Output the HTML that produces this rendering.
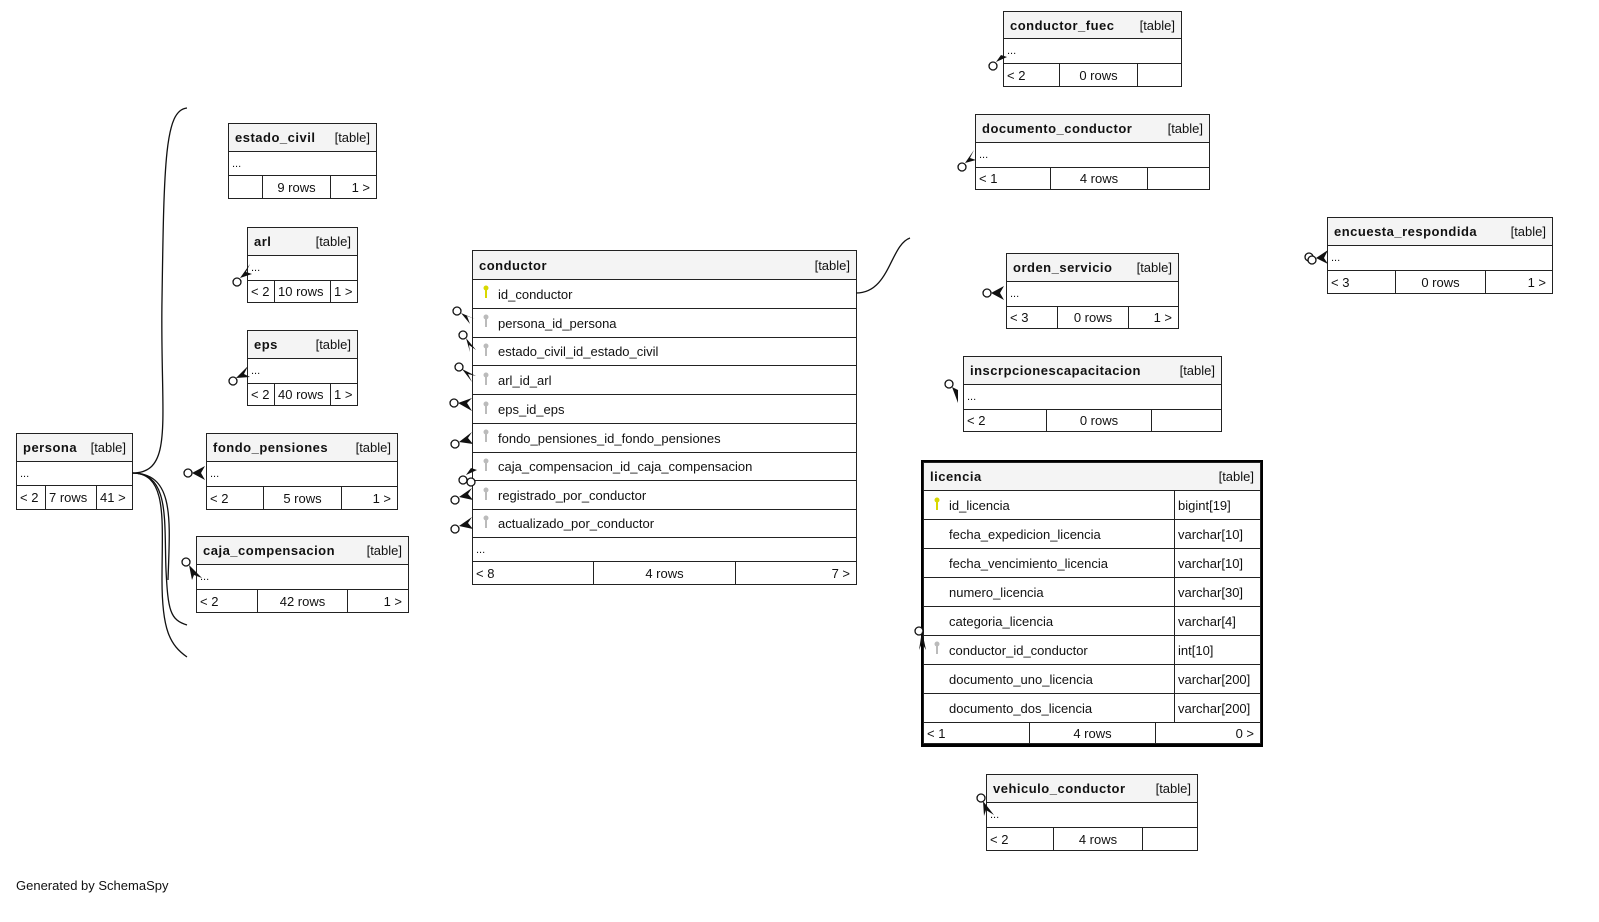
<!DOCTYPE html>
<html><head><meta charset="utf-8"><style>
body{margin:0;width:1599px;height:922px;background:#fff;position:relative;overflow:hidden;font-family:"Liberation Sans",sans-serif;font-size:13px;color:#111}
.c{position:absolute;border:1px solid #222;box-sizing:border-box;display:flex;align-items:center;padding:0 6px;background:#fff;white-space:nowrap;overflow:hidden}
.h{background:#f4f4f4;justify-content:space-between}
.h b{font-weight:bold;letter-spacing:0.5px}
.r{justify-content:flex-end}
.m{justify-content:center}
.p{padding-left:25px}
.d{font-size:11px;padding-left:3px}
.f{padding-left:3px}
svg{position:absolute;left:0;top:0}
</style></head><body>

<!-- conductor_fuec -->
<div class="c h" style="left:1003px;top:11px;width:179px;height:28px"><b>conductor_fuec</b><span>[table]</span></div>
<div class="c d" style="left:1003px;top:38px;width:179px;height:26px">...</div>
<div class="c f" style="left:1003px;top:63px;width:57px;height:24px">&lt; 2</div>
<div class="c m" style="left:1059px;top:63px;width:79px;height:24px">0 rows</div>
<div class="c" style="left:1137px;top:63px;width:45px;height:24px"></div>

<!-- documento_conductor -->
<div class="c h" style="left:975px;top:114px;width:235px;height:29px"><b>documento_conductor</b><span>[table]</span></div>
<div class="c d" style="left:975px;top:142px;width:235px;height:26px">...</div>
<div class="c f" style="left:975px;top:167px;width:76px;height:23px">&lt; 1</div>
<div class="c m" style="left:1050px;top:167px;width:98px;height:23px">4 rows</div>
<div class="c" style="left:1147px;top:167px;width:63px;height:23px"></div>

<!-- encuesta_respondida -->
<div class="c h" style="left:1327px;top:217px;width:226px;height:29px"><b>encuesta_respondida</b><span>[table]</span></div>
<div class="c d" style="left:1327px;top:245px;width:226px;height:26px">...</div>
<div class="c f" style="left:1327px;top:270px;width:69px;height:24px">&lt; 3</div>
<div class="c m" style="left:1395px;top:270px;width:91px;height:24px">0 rows</div>
<div class="c r" style="left:1485px;top:270px;width:68px;height:24px">1 &gt;</div>

<!-- orden_servicio -->
<div class="c h" style="left:1006px;top:253px;width:173px;height:29px"><b>orden_servicio</b><span>[table]</span></div>
<div class="c d" style="left:1006px;top:281px;width:173px;height:26px">...</div>
<div class="c f" style="left:1006px;top:306px;width:52px;height:23px">&lt; 3</div>
<div class="c m" style="left:1057px;top:306px;width:72px;height:23px">0 rows</div>
<div class="c r" style="left:1128px;top:306px;width:51px;height:23px">1 &gt;</div>

<!-- inscrpcionescapacitacion -->
<div class="c h" style="left:963px;top:356px;width:259px;height:29px"><b>inscrpcionescapacitacion</b><span>[table]</span></div>
<div class="c d" style="left:963px;top:384px;width:259px;height:26px">...</div>
<div class="c f" style="left:963px;top:409px;width:84px;height:23px">&lt; 2</div>
<div class="c m" style="left:1046px;top:409px;width:106px;height:23px">0 rows</div>
<div class="c" style="left:1151px;top:409px;width:71px;height:23px"></div>

<!-- licencia -->
<div style="position:absolute;left:921px;top:460px;width:342px;height:287px;border:3px solid #000;box-sizing:border-box"></div>
<div class="c h" style="left:923px;top:462px;width:338px;height:29px"><b>licencia</b><span>[table]</span></div>
<div class="c p" style="left:923px;top:490px;width:252px;height:30px">id_licencia</div><div class="c f" style="left:1174px;top:490px;width:87px;height:30px">bigint[19]</div>
<div class="c p" style="left:923px;top:519px;width:252px;height:30px">fecha_expedicion_licencia</div><div class="c f" style="left:1174px;top:519px;width:87px;height:30px">varchar[10]</div>
<div class="c p" style="left:923px;top:548px;width:252px;height:30px">fecha_vencimiento_licencia</div><div class="c f" style="left:1174px;top:548px;width:87px;height:30px">varchar[10]</div>
<div class="c p" style="left:923px;top:577px;width:252px;height:30px">numero_licencia</div><div class="c f" style="left:1174px;top:577px;width:87px;height:30px">varchar[30]</div>
<div class="c p" style="left:923px;top:606px;width:252px;height:30px">categoria_licencia</div><div class="c f" style="left:1174px;top:606px;width:87px;height:30px">varchar[4]</div>
<div class="c p" style="left:923px;top:635px;width:252px;height:30px">conductor_id_conductor</div><div class="c f" style="left:1174px;top:635px;width:87px;height:30px">int[10]</div>
<div class="c p" style="left:923px;top:664px;width:252px;height:30px">documento_uno_licencia</div><div class="c f" style="left:1174px;top:664px;width:87px;height:30px">varchar[200]</div>
<div class="c p" style="left:923px;top:693px;width:252px;height:30px">documento_dos_licencia</div><div class="c f" style="left:1174px;top:693px;width:87px;height:30px">varchar[200]</div>
<div class="c f" style="left:923px;top:722px;width:107px;height:22px">&lt; 1</div>
<div class="c m" style="left:1029px;top:722px;width:127px;height:22px">4 rows</div>
<div class="c r" style="left:1155px;top:722px;width:106px;height:22px">0 &gt;</div>

<!-- vehiculo_conductor -->
<div class="c h" style="left:986px;top:774px;width:212px;height:29px"><b>vehiculo_conductor</b><span>[table]</span></div>
<div class="c d" style="left:986px;top:802px;width:212px;height:26px">...</div>
<div class="c f" style="left:986px;top:827px;width:68px;height:24px">&lt; 2</div>
<div class="c m" style="left:1053px;top:827px;width:90px;height:24px">4 rows</div>
<div class="c" style="left:1142px;top:827px;width:56px;height:24px"></div>

<!-- estado_civil -->
<div class="c h" style="left:228px;top:123px;width:149px;height:29px"><b>estado_civil</b><span>[table]</span></div>
<div class="c d" style="left:228px;top:151px;width:149px;height:25px">...</div>
<div class="c" style="left:228px;top:175px;width:35px;height:24px"></div>
<div class="c m" style="left:262px;top:175px;width:69px;height:24px">9 rows</div>
<div class="c r" style="left:330px;top:175px;width:47px;height:24px">1 &gt;</div>

<!-- arl -->
<div class="c h" style="left:247px;top:227px;width:111px;height:29px"><b>arl</b><span>[table]</span></div>
<div class="c d" style="left:247px;top:255px;width:111px;height:26px">...</div>
<div class="c f" style="left:247px;top:280px;width:28px;height:23px">&lt; 2</div>
<div class="c f" style="left:274px;top:280px;width:57px;height:23px">10 rows</div>
<div class="c f" style="left:330px;top:280px;width:28px;height:23px">1 &gt;</div>

<!-- eps -->
<div class="c h" style="left:247px;top:330px;width:111px;height:29px"><b>eps</b><span>[table]</span></div>
<div class="c d" style="left:247px;top:358px;width:111px;height:26px">...</div>
<div class="c f" style="left:247px;top:383px;width:28px;height:23px">&lt; 2</div>
<div class="c f" style="left:274px;top:383px;width:57px;height:23px">40 rows</div>
<div class="c f" style="left:330px;top:383px;width:28px;height:23px">1 &gt;</div>

<!-- fondo_pensiones -->
<div class="c h" style="left:206px;top:433px;width:192px;height:29px"><b>fondo_pensiones</b><span>[table]</span></div>
<div class="c d" style="left:206px;top:461px;width:192px;height:26px">...</div>
<div class="c f" style="left:206px;top:486px;width:58px;height:24px">&lt; 2</div>
<div class="c m" style="left:263px;top:486px;width:79px;height:24px">5 rows</div>
<div class="c r" style="left:341px;top:486px;width:57px;height:24px">1 &gt;</div>

<!-- caja_compensacion -->
<div class="c h" style="left:196px;top:536px;width:213px;height:29px"><b>caja_compensacion</b><span>[table]</span></div>
<div class="c d" style="left:196px;top:564px;width:213px;height:26px">...</div>
<div class="c f" style="left:196px;top:589px;width:62px;height:24px">&lt; 2</div>
<div class="c m" style="left:257px;top:589px;width:91px;height:24px">42 rows</div>
<div class="c r" style="left:347px;top:589px;width:62px;height:24px">1 &gt;</div>

<!-- persona -->
<div class="c h" style="left:16px;top:433px;width:117px;height:29px"><b>persona</b><span>[table]</span></div>
<div class="c d" style="left:16px;top:461px;width:117px;height:25px">...</div>
<div class="c f" style="left:16px;top:485px;width:30px;height:25px">&lt; 2</div>
<div class="c f" style="left:45px;top:485px;width:52px;height:25px">7 rows</div>
<div class="c f" style="left:96px;top:485px;width:37px;height:25px">41 &gt;</div>

<!-- conductor -->
<div class="c h" style="left:472px;top:250px;width:385px;height:30px"><b>conductor</b><span>[table]</span></div>
<div class="c p" style="left:472px;top:279px;width:385px;height:30px">id_conductor</div>
<div class="c p" style="left:472px;top:308px;width:385px;height:30px">persona_id_persona</div>
<div class="c p" style="left:472px;top:337px;width:385px;height:29px">estado_civil_id_estado_civil</div>
<div class="c p" style="left:472px;top:365px;width:385px;height:30px">arl_id_arl</div>
<div class="c p" style="left:472px;top:394px;width:385px;height:30px">eps_id_eps</div>
<div class="c p" style="left:472px;top:423px;width:385px;height:30px">fondo_pensiones_id_fondo_pensiones</div>
<div class="c p" style="left:472px;top:452px;width:385px;height:29px">caja_compensacion_id_caja_compensacion</div>
<div class="c p" style="left:472px;top:480px;width:385px;height:30px">registrado_por_conductor</div>
<div class="c p" style="left:472px;top:509px;width:385px;height:29px">actualizado_por_conductor</div>
<div class="c d" style="left:472px;top:537px;width:385px;height:25px">...</div>
<div class="c f" style="left:472px;top:561px;width:122px;height:24px">&lt; 8</div>
<div class="c m" style="left:593px;top:561px;width:143px;height:24px">4 rows</div>
<div class="c r" style="left:735px;top:561px;width:122px;height:24px">7 &gt;</div>

<div style="position:absolute;left:16px;top:878px;font-size:13px">Generated by SchemaSpy</div>

<svg width="1599" height="922" viewBox="0 0 1599 922">
<g fill="none" stroke="#111" stroke-width="1.3">
<path d="M132,473 C175,473 160,420 162,300 C164,160 165,110 187,108"/>
<path d="M132,473 C170,473 164,520 166,570 C168,610 170,620 187,625"/>
<path d="M132,473 C168,473 162,520 162,580 C162,630 170,645 187,657"/>
<path d="M132,473 C175,473 170,520 168,580"/>
<path d="M856,293 C890,293 890,245 910,238"/>
</g>
<g fill="#fff" stroke="#111" stroke-width="1.3">
<circle cx="993" cy="66" r="4"/><circle cx="962" cy="167" r="4"/>
<circle cx="1309" cy="257" r="4"/><circle cx="1312" cy="260" r="4"/>
<circle cx="987" cy="293" r="4"/><circle cx="949" cy="384" r="4"/>
<circle cx="919" cy="631" r="4"/><circle cx="981" cy="798" r="4"/>
<circle cx="237" cy="282" r="4"/><circle cx="233" cy="381" r="4"/>
<circle cx="188" cy="473" r="4"/><circle cx="186" cy="562" r="4"/>
<circle cx="457" cy="311" r="4"/><circle cx="463" cy="335" r="4"/>
<circle cx="459" cy="367" r="4"/><circle cx="454" cy="403" r="4"/>
<circle cx="455" cy="444" r="4"/><circle cx="471" cy="482" r="4"/>
<circle cx="463" cy="480" r="4"/><circle cx="455" cy="500" r="4"/><circle cx="455" cy="529" r="4"/>
</g>
<g fill="#111">
<path d="M996,62 L1006,48 L1001,55 L1007,57 Z"/>
<path d="M965,163 L974,150 L970,158 L976,160 Z"/>
<path d="M1316,258 L1328,250 L1324,258 L1328,264 Z"/>
<path d="M991,293 L1004,286 L1000,293 L1004,300 Z"/>
<path d="M952,387 L966,394 L958,390 L958,403 Z"/>
<path d="M919,650 L922,631 L926,650 L922,643 Z"/>
<path d="M983,801 L994,815 L986,810 L984,816 Z"/>
<path d="M240,278 L250,264 L246,272 L252,274 Z"/>
<path d="M236,378 L248,366 L244,374 L250,377 Z"/>
<path d="M192,473 L205,466 L201,473 L205,480 Z"/>
<path d="M189,565 L202,578 L194,575 L192,580 Z"/>
<path d="M461,313 L475,319 L467,316 L470,324 Z"/>
<path d="M466,338 L476,350 L469,345 L470,352 Z"/>
<path d="M462,369 L476,376 L468,374 L472,382 Z"/>
<path d="M458,403 L472,398 L467,403 L472,411 Z"/>
<path d="M459,442 L472,432 L468,438 L473,444 Z"/>
<path d="M466,475 L476,461 L471,468 L477,470 Z"/>
<path d="M459,497 L472,488 L468,494 L473,500 Z"/>
<path d="M459,526 L472,517 L468,523 L473,529 Z"/>
</g>
<g>
<circle cx="486" cy="288" r="2.5" fill="#d8d800"/><rect x="485" y="289" width="2" height="9" fill="#d8d800"/>
<circle cx="937" cy="500" r="2.5" fill="#d8d800"/><rect x="936" y="501" width="2" height="9" fill="#d8d800"/>
<g fill="#bbb">
<circle cx="486" cy="317" r="2.5"/><rect x="485" y="318" width="2" height="9"/>
<circle cx="486" cy="346" r="2.5"/><rect x="485" y="347" width="2" height="9"/>
<circle cx="486" cy="375" r="2.5"/><rect x="485" y="376" width="2" height="9"/>
<circle cx="486" cy="404" r="2.5"/><rect x="485" y="405" width="2" height="9"/>
<circle cx="486" cy="432" r="2.5"/><rect x="485" y="433" width="2" height="9"/>
<circle cx="486" cy="461" r="2.5"/><rect x="485" y="462" width="2" height="9"/>
<circle cx="486" cy="490" r="2.5"/><rect x="485" y="491" width="2" height="9"/>
<circle cx="486" cy="518" r="2.5"/><rect x="485" y="519" width="2" height="9"/>
<circle cx="937" cy="644" r="2.5"/><rect x="936" y="645" width="2" height="9"/>
</g>
</g>
</svg>
</body></html>
